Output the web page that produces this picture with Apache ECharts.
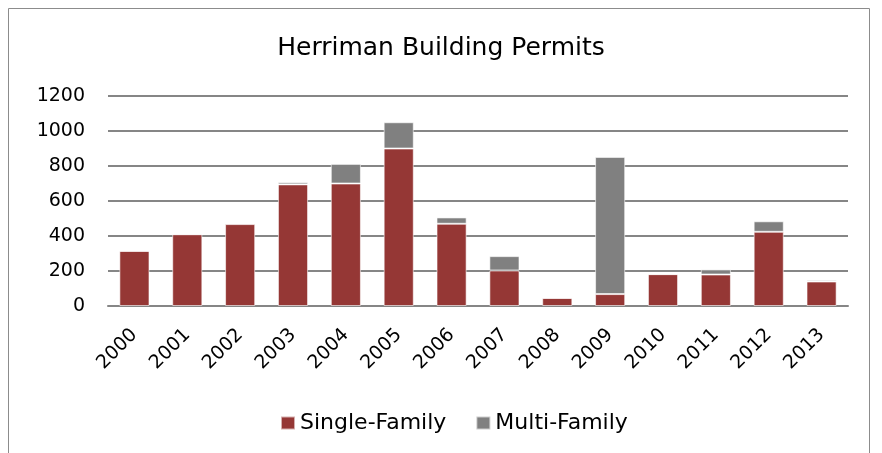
<!DOCTYPE html>
<html>
<head>
<meta charset="utf-8">
<script src="https://cdn.jsdelivr.net/npm/echarts@6/dist/echarts.min.js"></script>
<style>
  html, body { margin: 0; padding: 0; background: #fff; }
  #chart { width: 882px; height: 453px; }
</style>
</head>
<body>
<div id="chart"></div>
<script>
// Herriman building permits by year, single-family vs multi-family units
const years = ['2000','2001','2002','2003','2004','2005','2006','2007','2008','2009','2010','2011','2012','2013'];
const singleFamily = [315, 410, 468, 695, 700, 900, 470, 203, 46, 68, 182, 180, 424, 140];
const multiFamily  = [0,   0,   5,   12,  112, 150, 36,  82,  0,  784, 0,   29,  60,  8];
const yTicks = [0, 200, 400, 600, 800, 1000, 1200];

const FONT = '"DejaVu Sans", sans-serif';
const chart = echarts.init(document.getElementById('chart'));

chart.setOption({
  animation: false,
  backgroundColor: '#fff',
  title: {
    text: 'Herriman Building Permits',
    left: 'center',
    top: 31,
    textStyle: { fontFamily: FONT, fontSize: 25, fontWeight: 'normal', color: '#000' }
  },
  legend: {
    top: 407,
    left: 275,
    itemWidth: 14,
    itemHeight: 13,
    itemGap: 29,
    icon: 'rect',
    textStyle: { fontFamily: FONT, fontSize: 22, color: '#000' },
    data: ['Single-Family', 'Multi-Family']
  },
  grid: { left: 108, right: 34, top: 96, bottom: 147 },
  xAxis: {
    type: 'category',
    data: years,
    axisLine: { lineStyle: { color: '#868686', width: 2 } },
    axisTick: { show: false },
    axisLabel: {
      rotate: 45,
      fontFamily: FONT,
      fontSize: 19,
      color: '#000',
      margin: 26,
      interval: 0
    }
  },
  yAxis: {
    type: 'value',
    min: yTicks[0],
    max: yTicks[yTicks.length - 1],
    interval: 200,
    axisLine: { show: false },
    axisTick: { show: false },
    axisLabel: { fontFamily: FONT, fontSize: 19, color: '#000', margin: 23, formatter: v => String(v) },
    splitLine: { lineStyle: { color: '#868686', width: 2 } }
  },
  graphic: [{
    type: 'rect',
    shape: { x: 8.5, y: 8.5, width: 861, height: 470 },
    style: { fill: 'none', stroke: '#8c8c8c', lineWidth: 1 },
    silent: true
  }],
  series: [
    {
      name: 'Single-Family',
      type: 'bar',
      stack: 'permits',
      barWidth: '57%',
      data: singleFamily,
      itemStyle: { color: '#953735', borderColor: 'rgba(255,255,255,0.6)', borderWidth: 1 }
    },
    {
      name: 'Multi-Family',
      type: 'bar',
      stack: 'permits',
      barWidth: '57%',
      data: multiFamily,
      itemStyle: { color: '#808080', borderColor: 'rgba(255,255,255,0.6)', borderWidth: 1 }
    }
  ]
});
</script>
</body>
</html>
